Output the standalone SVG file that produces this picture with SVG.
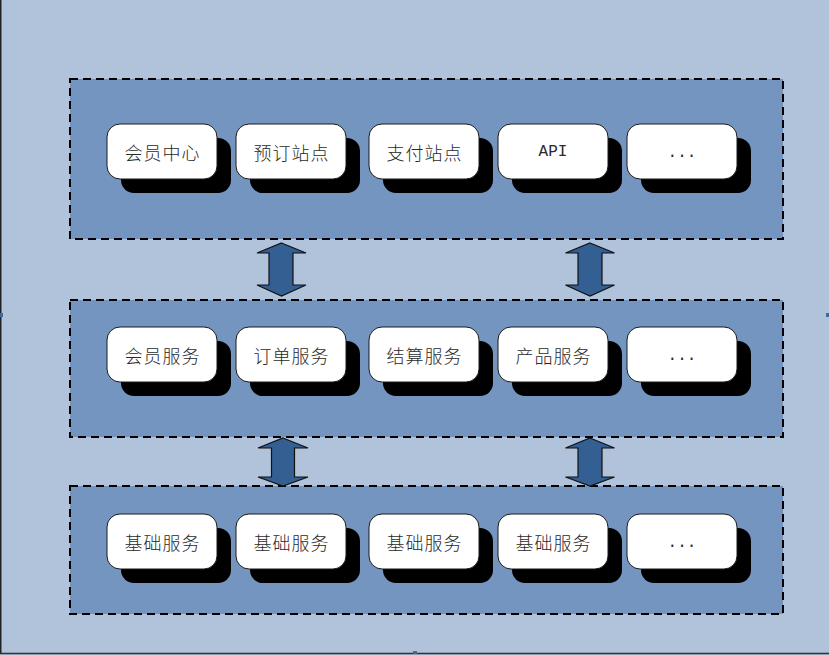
<svg xmlns="http://www.w3.org/2000/svg" width="829" height="655" viewBox="0 0 829 655">
<style>
.bg{fill:#B0C3DA}
.panel{fill:#7395C0;stroke:#000;stroke-width:2;stroke-dasharray:8,5}
.sh{fill:#000}
.box{fill:#fff;stroke:#1a1a1a;stroke-width:1}
.t{font-family:"Noto Sans CJK SC","Liberation Serif",serif;font-size:18px;font-weight:300;letter-spacing:1px;fill:#2a2a2a;text-anchor:middle;dominant-baseline:central}
.m{font-family:"Liberation Mono","Noto Sans CJK SC",monospace;font-size:16px;fill:#2a2a2a;text-anchor:middle;dominant-baseline:central}
.arr{fill:#335F93;stroke:#111;stroke-width:1.2}
.h{fill:#3F6AA0}
</style>
<defs>
<g id="node">
<rect class="sh" x="14" y="14" width="110" height="55" rx="13"/>
<rect class="box" x="0" y="0" width="110" height="55" rx="13"/>
</g>
</defs>
<rect class="bg" x="0" y="0" width="829" height="655"/>
<line x1="0.75" y1="0" x2="0.75" y2="654" stroke="#222" stroke-width="1.5"/>
<line x1="0" y1="653.5" x2="829" y2="653.5" stroke="#333" stroke-width="1.5"/>
<rect class="h" x="0" y="313" width="3" height="4"/>
<rect class="h" x="826" y="313" width="3" height="4"/>
<rect class="h" x="413" y="651" width="4" height="3"/>

<g id="layer1">
<rect class="panel" x="70" y="79" width="713" height="160"/>
<g id="n1"><use href="#node" x="107" y="124"/><text class="t" x="162.5" y="151.5">会员中心</text></g>
<g id="n2"><use href="#node" x="236" y="124"/><text class="t" x="291.5" y="151.5">预订站点</text></g>
<g id="n3"><use href="#node" x="369" y="124"/><text class="t" x="424.5" y="151.5">支付站点</text></g>
<g id="n4"><use href="#node" x="498" y="124"/><text class="m" x="553" y="151.5">API</text></g>
<g id="n5"><use href="#node" x="627" y="124"/><text class="m" x="682" y="153">...</text></g>
</g>

<g id="layer2">
<rect class="panel" x="70" y="300" width="713" height="137"/>
<g id="n6"><use href="#node" x="107" y="327"/><text class="t" x="162.5" y="354.5">会员服务</text></g>
<g id="n7"><use href="#node" x="236" y="327"/><text class="t" x="291.5" y="354.5">订单服务</text></g>
<g id="n8"><use href="#node" x="369" y="327"/><text class="t" x="424.5" y="354.5">结算服务</text></g>
<g id="n9"><use href="#node" x="498" y="327"/><text class="t" x="553.5" y="354.5">产品服务</text></g>
<g id="n10"><use href="#node" x="627" y="327"/><text class="m" x="682" y="356">...</text></g>
</g>

<g id="layer3">
<rect class="panel" x="70" y="486" width="713" height="128"/>
<g id="n11"><use href="#node" x="107" y="514"/><text class="t" x="162.5" y="541.5">基础服务</text></g>
<g id="n12"><use href="#node" x="236" y="514"/><text class="t" x="291.5" y="541.5">基础服务</text></g>
<g id="n13"><use href="#node" x="369" y="514"/><text class="t" x="424.5" y="541.5">基础服务</text></g>
<g id="n14"><use href="#node" x="498" y="514"/><text class="t" x="553.5" y="541.5">基础服务</text></g>
<g id="n15"><use href="#node" x="627" y="514"/><text class="m" x="682" y="543">...</text></g>
</g>

<g id="connectors">
<polygon class="arr" points="281.5,243 306,253 293,253 293,285 306,285 281.5,296 257,285 269,285 269,253 257,253"/>
<polygon class="arr" points="590,243 614.5,253 602,253 602,285 614.5,285 590,296 565.5,285 578,285 578,253 565.5,253"/>
<polygon class="arr" points="283,438 308,448 294.5,448 294.5,477 308,477 283,486 258,477 271.5,477 271.5,448 258,448"/>
<polygon class="arr" points="590,438 614.5,448 602,448 602,477 614.5,477 590,486 565.5,477 578,477 578,448 565.5,448"/>
</g>
</svg>
